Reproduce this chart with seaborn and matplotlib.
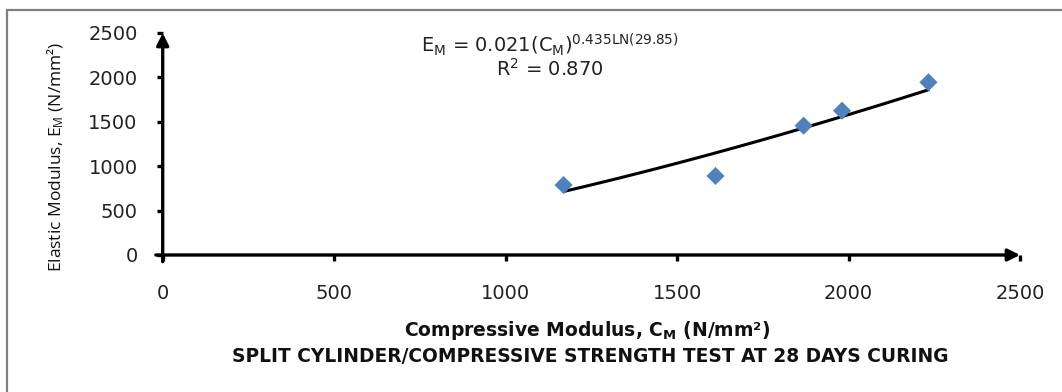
import numpy as np
import pandas as pd
import matplotlib
matplotlib.use("Agg")
import matplotlib.pyplot as plt
from matplotlib.patches import Rectangle
import seaborn as sns

# ---- data ----
compressive_modulus = [1169, 1612, 1869, 1981, 2233]   # C_M (N/mm2)
elastic_modulus = [788, 890, 1456, 1625, 1945]         # E_M (N/mm2)
fit_a = 0.021
fit_b = 0.435 * np.log(29.85)
x_ticks = [0, 500, 1000, 1500, 2000, 2500]
y_ticks = [0, 500, 1000, 1500, 2000, 2500]

sns.set_theme(style="white")
plt.rcParams['font.family'] = ['DejaVu Sans']
plt.rcParams['mathtext.default'] = 'regular'

W, H = 1062, 392
fig = plt.figure(figsize=(W / 100, H / 100), dpi=100)
ax = fig.add_axes([162.7 / W, 1 - 255 / H, 857.3 / W, 222 / H])

df = pd.DataFrame({"C": compressive_modulus, "E": elastic_modulus})
xs = np.linspace(min(compressive_modulus), max(compressive_modulus), 100)
trend = pd.DataFrame({"C": xs, "E": fit_a * xs ** fit_b})

sns.lineplot(data=trend, x="C", y="E", ax=ax, color="black", lw=2.2, zorder=2)
sns.scatterplot(data=df, x="C", y="E", ax=ax, marker="D", s=85,
                color="#4F81BD", edgecolor="none", zorder=3)

ax.set_xlim(0, 2500)
ax.set_ylim(0, 2500)
ax.set_xticks(x_ticks)
ax.set_yticks(y_ticks)
ax.set_xticklabels([str(v) for v in x_ticks])
ax.set_yticklabels([str(v) for v in y_ticks])
ax.set_xlabel("")
ax.set_ylabel("")
for s in ax.spines.values():
    s.set_visible(False)
ax.tick_params(axis='both', which='both', direction='out', length=4,
               width=2.4, color='black', labelsize=14, labelcolor='#222222')
ax.tick_params(axis='x', pad=17, bottom=True)
ax.tick_params(axis='y', pad=14, left=True)

# axis arrows
ax.annotate('', xy=(1.0, 0), xytext=(-0.008, 0), xycoords='axes fraction',
            arrowprops=dict(arrowstyle='-|>', lw=2.4, color='black',
                            mutation_scale=18, shrinkA=0, shrinkB=0),
            annotation_clip=False)
ax.annotate('', xy=(0, 1.0), xytext=(0, -0.03), xycoords='axes fraction',
            arrowprops=dict(arrowstyle='-|>', lw=2.4, color='black',
                            mutation_scale=18, shrinkA=0, shrinkB=0),
            annotation_clip=False)

# texts
fig.text(56 / W, 1 - 157 / H, r"Elastic Modulus, E$_M$ (N/mm²)", rotation=90,
         ha='center', va='center', fontsize=12.5, color='#111111',
         family=['Open Sans', 'DejaVu Sans'])
fig.text(587 / W, 1 - 331 / H, r"Compressive Modulus, C$_M$ (N/mm²)",
         ha='center', va='center', fontsize=13.5, fontweight='bold', color='#111111')
fig.text(590 / W, 1 - 357 / H, "SPLIT CYLINDER/COMPRESSIVE STRENGTH TEST AT 28 DAYS CURING",
         ha='center', va='center', fontsize=13.4, fontweight='bold', color='#111111')
fig.text(550 / W, 1 - 45 / H, r"E$_M$ = 0.021(C$_M$)$^{0.435LN(29.85)}$",
         ha='center', va='center', fontsize=14, color='#222222')
fig.text(550 / W, 1 - 69 / H, r"R$^2$ = 0.870",
         ha='center', va='center', fontsize=14, color='#222222')

# outer frame (only left/top visible in reference)
fig.patches.append(Rectangle((7 / W, -0.2), 1.2, 1.2 - 10 / H,
                             transform=fig.transFigure, fill=False,
                             edgecolor='#808080', lw=1.6))

fig.savefig("out.png", dpi=100, facecolor='white')
